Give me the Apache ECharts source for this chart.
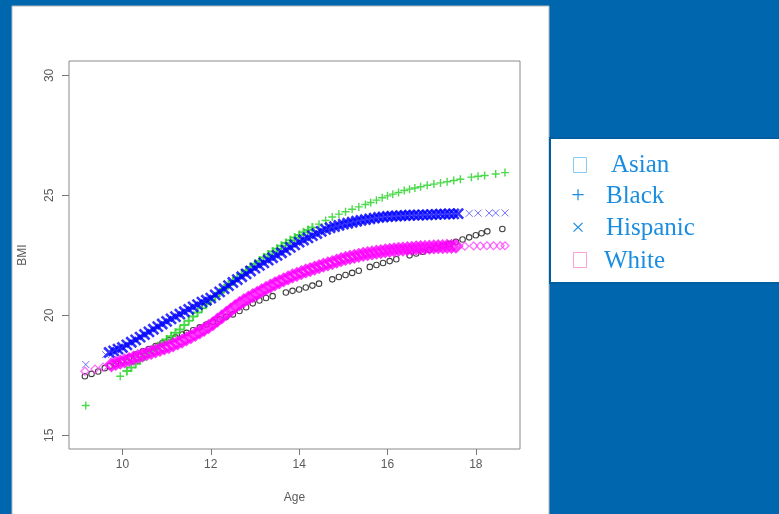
<!DOCTYPE html>
<html>
<head>
<meta charset="utf-8">
<script src="https://cdn.jsdelivr.net/npm/echarts@6/dist/echarts.min.js"></script>
<style>
html,body{margin:0;padding:0;background:#0066ad;}
#chart{width:779px;height:514px;}
</style>
</head>
<body>
<div id="chart"></div>
<script>
// ---- data ----
const xTicks = [10, 12, 14, 16, 18];
const yTicks = [15, 20, 25, 30];
const legendNames = ['Asian', 'Black', 'Hispanic', 'White'];

const asian = [[9.15,17.46],[9.3,17.56],[9.45,17.66],[9.6,17.8],[9.71,17.88],[9.85,17.98],[10.0,18.12],[10.15,18.24],[10.3,18.37],[10.46,18.5],[10.6,18.6],[10.75,18.72],[10.9,18.84],[11.05,18.96],[11.2,19.08],[11.35,19.2],[11.45,19.27],[11.6,19.38],[11.75,19.5],[11.9,19.62],[12.05,19.73],[12.2,19.84],[12.35,19.94],[12.5,20.04],[12.65,20.18],[12.8,20.34],[12.95,20.5],[13.1,20.62],[13.25,20.72],[13.4,20.8],[13.7,20.95],[13.85,21.02],[14.0,21.08],[14.15,21.16],[14.3,21.24],[14.45,21.32],[14.75,21.5],[14.9,21.6],[15.05,21.68],[15.2,21.77],[15.35,21.86],[15.6,22.02],[15.75,22.1],[15.9,22.18],[16.05,22.26],[16.2,22.34],[16.5,22.5],[16.65,22.58],[16.8,22.65],[16.95,22.73],[17.1,22.81],[17.25,22.9],[17.4,22.98],[17.55,23.07],[17.7,23.16],[17.85,23.25],[18.0,23.34],[18.13,23.42],[18.26,23.5],[18.6,23.6]];

const black = [[9.17,16.24],[9.95,17.46],[10.1,17.68],[10.2,17.83],[10.3,17.98],[10.4,18.13],[10.5,18.28],[10.6,18.43],[10.7,18.57],[10.8,18.71],[10.9,18.85],[11.0,18.99],[11.1,19.13],[11.2,19.27],[11.3,19.41],[11.4,19.6],[11.5,19.78],[11.6,19.95],[11.7,20.12],[11.8,20.3],[11.9,20.47],[12.0,20.63],[12.1,20.79],[12.2,20.95],[12.3,21.11],[12.4,21.27],[12.5,21.42],[12.6,21.57],[12.7,21.72],[12.8,21.87],[12.9,22.01],[13.0,22.15],[13.1,22.28],[13.2,22.41],[13.3,22.54],[13.4,22.66],[13.5,22.78],[13.6,22.9],[13.7,23.02],[13.8,23.13],[13.9,23.24],[14.0,23.35],[14.1,23.46],[14.2,23.56],[14.3,23.66],[14.45,23.8],[14.6,23.95],[14.75,24.1],[14.9,24.22],[15.05,24.32],[15.2,24.42],[15.35,24.52],[15.5,24.62],[15.62,24.7],[15.75,24.8],[15.88,24.9],[16.0,24.98],[16.12,25.05],[16.25,25.12],[16.38,25.2],[16.5,25.26],[16.62,25.31],[16.75,25.36],[16.9,25.42],[17.05,25.47],[17.2,25.52],[17.35,25.57],[17.5,25.62],[17.65,25.67],[17.9,25.76],[18.05,25.8],[18.2,25.83],[18.45,25.89],[18.66,25.95]];

const hispanic = [[9.17,17.95],[9.62,18.36],[9.7,18.45],[9.8,18.52],[9.9,18.59],[10.0,18.66],[10.1,18.77],[10.2,18.88],[10.3,18.98],[10.4,19.09],[10.5,19.2],[10.6,19.31],[10.7,19.42],[10.8,19.53],[10.9,19.64],[11.0,19.75],[11.1,19.85],[11.2,19.95],[11.3,20.05],[11.4,20.15],[11.5,20.25],[11.6,20.35],[11.7,20.45],[11.8,20.55],[11.9,20.63],[12.0,20.72],[12.1,20.85],[12.2,20.98],[12.3,21.11],[12.4,21.24],[12.5,21.37],[12.6,21.49],[12.7,21.61],[12.8,21.73],[12.9,21.85],[13.0,21.97],[13.1,22.08],[13.2,22.19],[13.3,22.3],[13.4,22.4],[13.5,22.5],[13.6,22.61],[13.7,22.72],[13.8,22.83],[13.9,22.94],[14.0,23.05],[14.1,23.14],[14.2,23.23],[14.3,23.32],[14.4,23.41],[14.5,23.5],[14.6,23.58],[14.7,23.65],[14.8,23.7],[14.9,23.75],[15.0,23.8],[15.1,23.84],[15.2,23.88],[15.3,23.92],[15.4,23.96],[15.5,23.99],[15.6,24.02],[15.7,24.05],[15.8,24.08],[15.9,24.1],[16.0,24.12],[16.1,24.13],[16.2,24.14],[16.3,24.15],[16.4,24.16],[16.5,24.17],[16.6,24.18],[16.7,24.18],[16.8,24.19],[16.9,24.19],[17.0,24.2],[17.1,24.21],[17.2,24.22],[17.3,24.22],[17.4,24.23],[17.5,24.23],[17.6,24.24],[17.85,24.25],[18.05,24.26],[18.3,24.26],[18.45,24.27],[18.66,24.27]];

const white = [[9.15,17.67],[9.38,17.76],[9.56,17.84],[9.75,17.94],[9.85,18.0],[9.95,18.05],[10.05,18.1],[10.15,18.16],[10.25,18.22],[10.35,18.28],[10.45,18.34],[10.55,18.4],[10.65,18.46],[10.75,18.52],[10.85,18.58],[10.95,18.64],[11.05,18.7],[11.15,18.77],[11.25,18.85],[11.35,18.93],[11.45,19.02],[11.55,19.11],[11.65,19.21],[11.75,19.31],[11.85,19.42],[11.95,19.53],[12.05,19.66],[12.15,19.8],[12.25,19.94],[12.35,20.08],[12.45,20.22],[12.55,20.36],[12.65,20.49],[12.75,20.61],[12.85,20.72],[12.95,20.82],[13.05,20.92],[13.15,21.02],[13.25,21.12],[13.35,21.22],[13.45,21.31],[13.55,21.4],[13.65,21.48],[13.75,21.56],[13.85,21.64],[13.95,21.71],[14.05,21.78],[14.15,21.85],[14.25,21.91],[14.35,21.97],[14.45,22.03],[14.55,22.09],[14.65,22.15],[14.75,22.2],[14.85,22.26],[14.95,22.32],[15.05,22.37],[15.15,22.42],[15.25,22.46],[15.35,22.5],[15.45,22.54],[15.55,22.57],[15.65,22.6],[15.75,22.63],[15.85,22.66],[15.95,22.69],[16.05,22.71],[16.15,22.73],[16.25,22.75],[16.35,22.76],[16.45,22.78],[16.55,22.79],[16.65,22.81],[16.75,22.82],[16.85,22.83],[16.95,22.84],[17.05,22.85],[17.15,22.86],[17.25,22.86],[17.35,22.87],[17.45,22.87],[17.55,22.88],[17.75,22.88],[17.95,22.89],[18.1,22.89],[18.25,22.9],[18.4,22.9],[18.55,22.9],[18.66,22.9]];

// ---- chart ----
const chart = echarts.init(document.getElementById('chart'), null, {renderer: 'canvas'});
const axisText = {color: '#5a5a5a', fontFamily: 'Liberation Sans, Arial, sans-serif', fontSize: 12};
const plusPath = 'path://M0,5L10,5M5,0L5,10';
const crossPath = 'path://M0,0L10,10M10,0L0,10';
const inBand = (lo, hi) => p => p[0] > lo && p[0] < hi;
const outBand = (lo, hi) => p => !(p[0] > lo && p[0] < hi);

const option = {
  backgroundColor: '#0066ad',
  animation: false,
  grid: {left: 69, right: 259, top: 61, bottom: 65, show: true, backgroundColor: '#fff', borderColor: '#8a8a8a', borderWidth: 1, containLabel: false},
  xAxis: {
    type: 'value', min: 8.79, max: 19.0,
    name: 'Age', nameLocation: 'middle', nameGap: 43,
    nameTextStyle: axisText,
    axisLine: {show: false},
    splitLine: {show: false},
    axisTick: {show: true, length: 6, lineStyle: {color: '#777'}, customValues: xTicks},
    axisLabel: Object.assign({customValues: xTicks, margin: 10}, axisText)
  },
  yAxis: {
    type: 'value', min: 14.43, max: 30.6,
    name: 'BMI', nameLocation: 'middle', nameGap: 40, nameRotate: 90,
    nameTextStyle: axisText,
    axisLine: {show: false},
    splitLine: {show: false},
    axisTick: {show: true, length: 7, lineStyle: {color: '#777'}, customValues: yTicks},
    axisLabel: Object.assign({customValues: yTicks, rotate: 90, margin: 13}, axisText)
  },
  series: [
    {name: legendNames[0], type: 'scatter', data: asian, symbol: 'circle', symbolSize: 5.5,
     itemStyle: {color: 'transparent', borderColor: '#111', borderWidth: 1.1}},
    {name: legendNames[1], type: 'scatter', data: black.filter(inBand(10.05, 14.35)), symbol: plusPath, symbolSize: 9,
     itemStyle: {color: 'transparent', borderColor: '#1fd01f', borderWidth: 2}},
    {name: legendNames[1], type: 'scatter', data: black.filter(outBand(10.05, 14.35)), symbol: plusPath, symbolSize: 8,
     itemStyle: {color: 'transparent', borderColor: '#1fd01f', borderWidth: 1.4}},
    {name: legendNames[2], type: 'scatter', data: hispanic.filter(inBand(9.65, 17.7)), symbol: crossPath, symbolSize: 10,
     itemStyle: {color: 'transparent', borderColor: '#0000ff', borderWidth: 2.6}},
    {name: legendNames[2], type: 'scatter', data: hispanic.filter(outBand(9.65, 17.7)), symbol: crossPath, symbolSize: 7,
     itemStyle: {color: 'transparent', borderColor: '#4a4aff', borderWidth: 1}},
    {name: legendNames[3], type: 'scatter', data: white.filter(inBand(9.7, 17.6)), symbol: 'diamond', symbolSize: 11,
     itemStyle: {color: 'transparent', borderColor: '#ff00ff', borderWidth: 3}},
    {name: legendNames[3], type: 'scatter', data: white.filter(outBand(9.7, 17.6)), symbol: 'diamond', symbolSize: 8,
     itemStyle: {color: 'transparent', borderColor: '#ff44ff', borderWidth: 1.2}}
  ],
  graphic: [
    {type: 'rect', z: -10, shape: {x: 12, y: 6, width: 537, height: 510}, style: {fill: '#fff', stroke: '#b8b8b8', lineWidth: 1}, silent: true},
    {type: 'rect', z: 10, shape: {x: 550, y: 138, width: 232, height: 145}, style: {fill: '#fff', stroke: '#005fa3', lineWidth: 2}, silent: true},
    {type: 'rect', z: 11, shape: {x: 573.5, y: 157.5, width: 13, height: 15}, style: {fill: 'none', stroke: '#86cbf2', lineWidth: 1}},
    {type: 'text', z: 11, style: {text: '+', x: 578, y: 196, fill: '#1a8de0', font: '24px "Liberation Serif", serif', align: 'center', verticalAlign: 'middle'}},
    {type: 'text', z: 11, style: {text: '×', x: 578, y: 229, fill: '#1a8de0', font: '24px "Liberation Serif", serif', align: 'center', verticalAlign: 'middle'}},
    {type: 'rect', z: 11, shape: {x: 573.5, y: 252.5, width: 13, height: 15}, style: {fill: 'none', stroke: '#ff9ed6', lineWidth: 1}},
    {type: 'text', z: 11, style: {text: legendNames[0], x: 611, y: 165, fill: '#1a8de0', font: '25px "Liberation Serif", serif', verticalAlign: 'middle'}},
    {type: 'text', z: 11, style: {text: legendNames[1], x: 606, y: 196, fill: '#1a8de0', font: '25px "Liberation Serif", serif', verticalAlign: 'middle'}},
    {type: 'text', z: 11, style: {text: legendNames[2], x: 606, y: 228, fill: '#1a8de0', font: '25px "Liberation Serif", serif', verticalAlign: 'middle'}},
    {type: 'text', z: 11, style: {text: legendNames[3], x: 604, y: 261, fill: '#1a8de0', font: '25px "Liberation Serif", serif', verticalAlign: 'middle'}}
  ]
};
chart.setOption(option);
</script>
</body>
</html>
